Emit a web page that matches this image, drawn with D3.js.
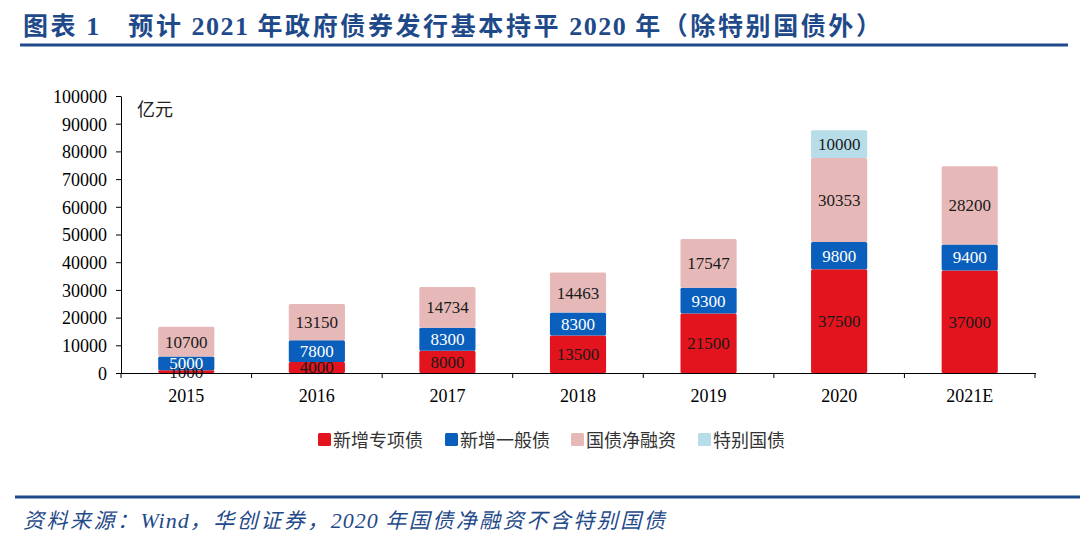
<html>
<head>
<meta charset="utf-8">
<script src="https://d3js.org/d3.v7.min.js"></script>
<style>
body { margin: 0; background: #fff; }
</style>
</head>
<body>
<script>
var years = ["2015", "2016", "2017", "2018", "2019", "2020", "2021E"];
var zhuanxiang = [1000, 4000, 8000, 13500, 21500, 37500, 37000];
var yiban = [5000, 7800, 8300, 8300, 9300, 9800, 9400];
var guozhai = [10700, 13150, 14734, 14463, 17547, 30353, 28200];
var tebie = [0, 0, 0, 0, 0, 10000, 0];
var seriesNames = ["新增专项债", "新增一般债", "国债净融资", "特别国债"];
var yTicks = [0, 10000, 20000, 30000, 40000, 50000, 60000, 70000, 80000, 90000, 100000];

var colors = ["#e3141e", "#0b5fbc", "#e6b9b8", "#b7dde8"];
var labelColors = ["#1a1a1a", "#ffffff", "#1a1a1a", "#1a1a1a"];
var navy = "#1f4a8a";
var serif = "'Liberation Serif', 'Times New Roman', 'Noto Sans CJK SC', serif";
var cjk = "'Noto Sans CJK SC', sans-serif";

var svg = d3.select("body").append("svg")
    .attr("width", 1080)
    .attr("height", 547);

// split a string into latin / CJK runs so each gets its own size
function mixedText(sel, str, latinSize, latinSpacing, cjkSize, cjkSpacing) {
    var runs = str.match(/[\x00-\x7f]+|[^\x00-\x7f]+/g);
    runs.forEach(function(r) {
        var latin = /^[\x00-\x7f]/.test(r);
        sel.append("tspan")
            .style("font-size", (latin ? latinSize : cjkSize) + "px")
            .style("letter-spacing", (latin ? latinSpacing : cjkSpacing) + "px")
            .text(r);
    });
}

// title
var title = svg.append("text")
    .attr("x", 23).attr("y", 35)
    .style("font-family", serif)
    .style("font-weight", "bold")
    .style("fill", navy)
    .style("white-space", "pre");
mixedText(title, "图表 1　预计 2021 年政府债券发行基本持平 2020 年（除特别国债外）", 26, 1.5, 25, 2.6);
svg.append("line")
    .attr("x1", 20).attr("x2", 1068).attr("y1", 45).attr("y2", 45)
    .style("stroke", navy).style("stroke-width", 2.8);

var x = d3.scaleBand().domain(years).range([121, 1035]).paddingInner(0.57).paddingOuter(0.285);
var y = d3.scaleLinear().domain([0, 100000]).range([373, 96]);

var table = years.map(function(yr, i) {
    return {year: yr, s0: zhuanxiang[i], s1: yiban[i], s2: guozhai[i], s3: tebie[i]};
});
var stack = d3.stack().keys(["s0", "s1", "s2", "s3"])(table);

var layers = svg.selectAll("g.layer").data(stack).enter()
    .append("g").attr("class", "layer")
    .style("fill", function(d, i) { return colors[i]; });

layers.selectAll("rect").data(function(d) { return d; }).enter()
    .append("rect")
    .attr("x", function(d) { return x(d.data.year); })
    .attr("width", x.bandwidth())
    .attr("y", function(d) { return y(d[1]); })
    .attr("height", function(d) { return y(d[0]) - y(d[1]); })
    .attr("rx", 1.5);

// value labels
stack.forEach(function(layer, li) {
    svg.selectAll("text.lbl" + li).data(layer.filter(function(d) { return d[1] - d[0] > 0; })).enter()
        .append("text")
        .attr("x", function(d) { return x(d.data.year) + x.bandwidth() / 2; })
        .attr("y", function(d) { return (y(d[0]) + y(d[1])) / 2 + 6; })
        .attr("text-anchor", "middle")
        .style("font-family", serif)
        .style("font-size", "17px")
        .style("fill", labelColors[li])
        .text(function(d) { return d[1] - d[0]; });
});

// y axis
var yAxis = svg.append("g")
    .attr("transform", "translate(121,0)")
    .call(d3.axisLeft(y).tickValues(yTicks).tickSize(5).tickSizeOuter(0).tickFormat(d3.format("d")));
yAxis.select(".domain").style("stroke", "#000");
yAxis.selectAll("line").style("stroke", "#000");
yAxis.selectAll("text")
    .style("font-family", serif).style("font-size", "18px").style("fill", "#000")
    .attr("x", -14).attr("dy", "0.35em");

// x axis
svg.append("line").attr("x1", 121).attr("x2", 1036).attr("y1", 373.5).attr("y2", 373.5)
    .style("stroke", "#000").style("stroke-width", 1);
var step = x.step();
svg.selectAll("line.xt").data(d3.range(years.length + 1)).enter()
    .append("line").attr("class", "xt")
    .attr("x1", function(d) { return 121 + d * step; })
    .attr("x2", function(d) { return 121 + d * step; })
    .attr("y1", 373).attr("y2", 378)
    .style("stroke", "#000");
svg.selectAll("text.xl").data(years).enter()
    .append("text").attr("class", "xl")
    .attr("x", function(d) { return x(d) + x.bandwidth() / 2; })
    .attr("y", 402)
    .attr("text-anchor", "middle")
    .style("font-family", serif).style("font-size", "18px").style("fill", "#000")
    .text(function(d) { return d; });

svg.append("text")
    .attr("x", 137).attr("y", 116)
    .style("font-family", cjk)
    .style("font-size", "18px").style("fill", "#222")
    .text("亿元");

// legend
var legendX = [318, 445, 571, 698];
var lg = svg.selectAll("g.lg").data(seriesNames).enter()
    .append("g").attr("class", "lg")
    .attr("transform", function(d, i) { return "translate(" + legendX[i] + ",433)"; });
lg.append("rect").attr("width", 13).attr("height", 13).attr("rx", 1.5)
    .style("fill", function(d, i) { return colors[i]; });
lg.append("text").attr("x", 15).attr("y", 13.5)
    .style("font-family", cjk)
    .style("font-size", "18px").style("fill", "#333")
    .text(function(d) { return d; });

// footer
svg.append("line")
    .attr("x1", 15).attr("x2", 1080).attr("y1", 497).attr("y2", 497)
    .style("stroke", navy).style("stroke-width", 2.8);
var foot = svg.append("text")
    .attr("x", 23).attr("y", 528)
    .style("font-family", serif)
    .style("font-style", "italic")
    .style("fill", navy)
    .style("white-space", "pre");
mixedText(foot, "资料来源：Wind，华创证券，2020 年国债净融资不含特别国债", 22, 1, 21, 2.5);
</script>
</body>
</html>
